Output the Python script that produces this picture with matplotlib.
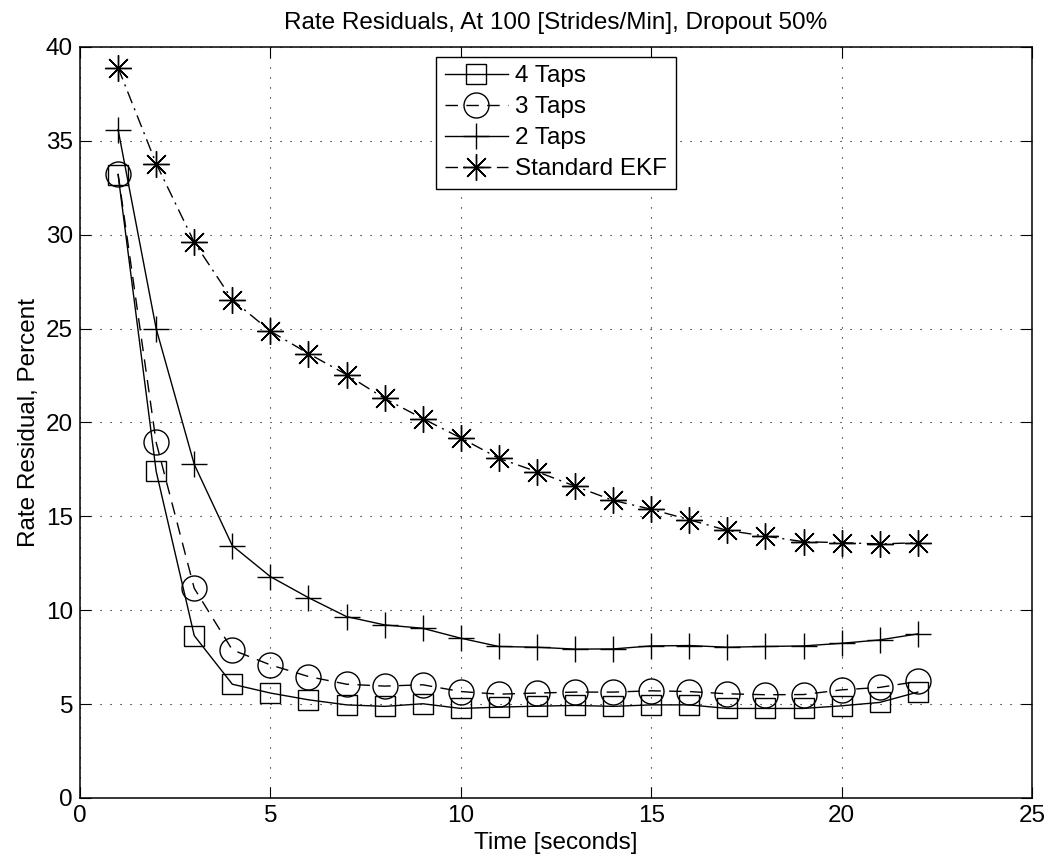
import matplotlib
matplotlib.use("Agg")
import matplotlib.pyplot as plt

time_s = list(range(1, 23))
taps4 = [33.2, 17.4, 8.65, 6.06, 5.59, 5.23, 4.96, 4.88, 5.02, 4.77, 4.84,
         4.89, 4.93, 4.88, 4.96, 4.96, 4.77, 4.77, 4.77, 4.91, 5.09, 5.64]
taps3 = [33.25, 18.94, 11.17, 7.89, 7.09, 6.47, 6.06, 5.96, 6.03, 5.67, 5.53,
         5.59, 5.64, 5.64, 5.71, 5.67, 5.55, 5.50, 5.51, 5.76, 5.89, 6.21]
taps2 = [35.6, 25.0, 17.77, 13.44, 11.79, 10.67, 9.66, 9.22, 9.04, 8.51, 8.07,
         8.03, 7.93, 7.94, 8.10, 8.12, 8.03, 8.07, 8.10, 8.24, 8.42, 8.74]
ekf = [38.9, 33.79, 29.6, 26.54, 24.86, 23.67, 22.55, 21.28, 20.21, 19.18, 18.09,
       17.38, 16.61, 15.85, 15.38, 14.82, 14.25, 13.95, 13.65, 13.60, 13.53, 13.60]

labels = ["4 Taps", "3 Taps", "2 Taps", "Standard EKF"]
xticks = [0, 5, 10, 15, 20, 25]
yticks = [0, 5, 10, 15, 20, 25, 30, 35, 40]

plt.rcParams['font.family'] = ['Liberation Sans', 'DejaVu Sans']

fig = plt.figure(figsize=(10.5, 8.65), dpi=100)
ax = fig.add_axes([80/1050, 1 - 798/865, (1032-80)/1050, (798-47)/865])

lw = 1.0
ax.plot(time_s, taps4, color='k', lw=lw, ls='-', marker='s', ms=14.5,
        mfc='none', mec='k', mew=1.0, label=labels[0])
ax.plot(time_s, taps3, color='k', lw=lw, ls=(0, (9, 6)), marker='o', ms=18,
        mfc='none', mec='k', mew=1.0, label=labels[1])
ax.plot(time_s, taps2, color='k', lw=lw, ls='-', marker='+', ms=19,
        mfc='none', mec='k', mew=1.0, label=labels[2])
ax.plot(time_s, ekf, color='k', lw=lw, ls=(0, (9, 4, 1.5, 4)), marker=(8, 2, 0), ms=19,
        mfc='none', mec='k', mew=1.0, label=labels[3])

ax.set_xlim(0, 25)
ax.set_ylim(0, 40)
ax.set_xticks(xticks)
ax.set_yticks(yticks)
ax.tick_params(direction='in', length=8, width=0.8, top=True, right=True,
               labelsize=17.5, pad=5)
ax.grid(True, color='k', ls=(0, (1, 8)), lw=0.8)
for s in ax.spines.values():
    s.set_linewidth(1.1)

ax.set_title("Rate Residuals, At 100 [Strides/Min], Dropout 50%", fontsize=17.5, pad=13)
ax.set_xlabel("Time [seconds]", fontsize=17.5, labelpad=4)
ax.set_ylabel("Rate Residual, Percent", fontsize=17.5, labelpad=4)

leg = ax.legend(loc='upper center', bbox_to_anchor=(0.5, 0.987), fontsize=17.5,
                frameon=True, fancybox=False, edgecolor='k', framealpha=1,
                handlelength=2.6, handletextpad=0.3, borderpad=0.35,
                labelspacing=0.37, borderaxespad=0.0)
leg.get_frame().set_linewidth(1.0)

fig.savefig("out.png", dpi=100)
